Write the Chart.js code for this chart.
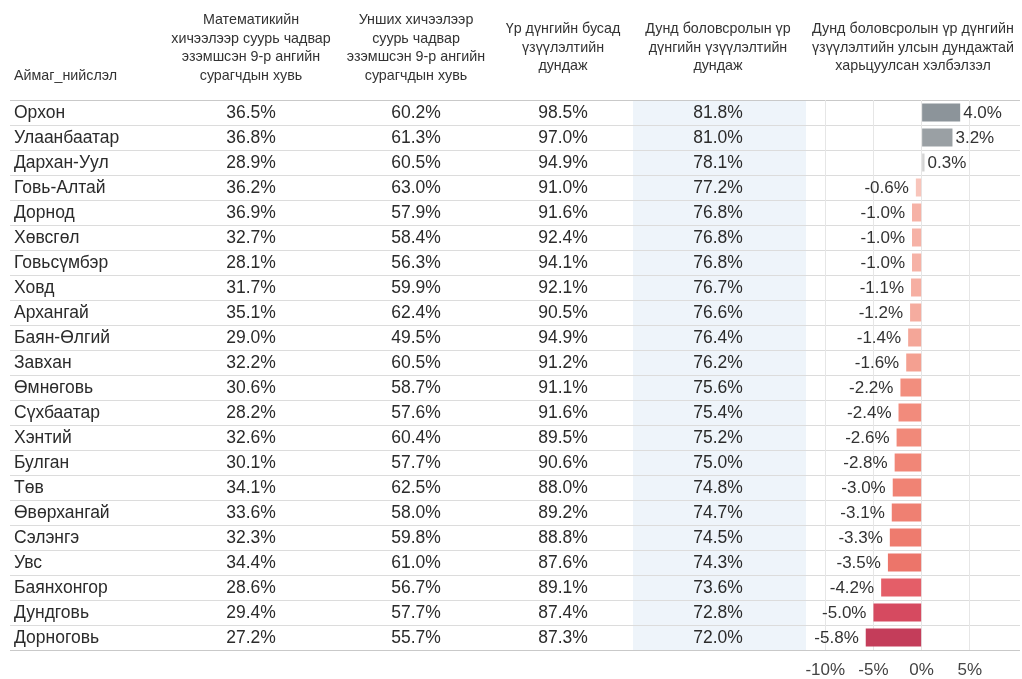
<!DOCTYPE html>
<html>
<head>
<meta charset="utf-8">
<script src="https://cdn.jsdelivr.net/npm/chart.js@4/dist/chart.umd.min.js"></script>
<style>
  body { margin: 0; background: #fff; }
  canvas { display: block; }
</style>
</head>
<body>
<canvas id="chart" width="1022" height="679"></canvas>
<script>
const regions = ['Орхон', 'Улаанбаатар', 'Дархан-Уул', 'Говь-Алтай', 'Дорнод', 'Хөвсгөл', 'Говьсүмбэр', 'Ховд',
    'Архангай', 'Баян-Өлгий', 'Завхан', 'Өмнөговь', 'Сүхбаатар', 'Хэнтий', 'Булган', 'Төв', 'Өвөрхангай',
    'Сэлэнгэ', 'Увс', 'Баянхонгор', 'Дундговь', 'Дорноговь'];
const mathShare = [36.5, 36.8, 28.9, 36.2, 36.9, 32.7, 28.1, 31.7, 35.1, 29.0, 32.2, 30.6, 28.2, 32.6, 30.1, 34.1,
    33.6, 32.3, 34.4, 28.6, 29.4, 27.2];
const readingShare = [60.2, 61.3, 60.5, 63.0, 57.9, 58.4, 56.3, 59.9, 62.4, 49.5, 60.5, 58.7, 57.6, 60.4, 57.7, 62.5,
    58.0, 59.8, 61.0, 56.7, 57.7, 55.7];
const otherAvg = [98.5, 97.0, 94.9, 91.0, 91.6, 92.4, 94.1, 92.1, 90.5, 94.9, 91.2, 91.1, 91.6, 89.5, 90.6, 88.0,
    89.2, 88.8, 87.6, 89.1, 87.4, 87.3];
const secondaryAvg = [81.8, 81.0, 78.1, 77.2, 76.8, 76.8, 76.8, 76.7, 76.6, 76.4, 76.2, 75.6, 75.4, 75.2, 75.0, 74.8,
    74.7, 74.5, 74.3, 73.6, 72.8, 72.0];
const diffFromNational = [4.0, 3.2, 0.3, -0.6, -1.0, -1.0, -1.0, -1.1, -1.2, -1.4, -1.6, -2.2, -2.4, -2.6, -2.8, -3.0,
    -3.1, -3.3, -3.5, -4.2, -5.0, -5.8];
const xTicks = [-10, -5, 0, 5];

const headers = [
    ['Аймаг_нийслэл'],
    ['Математикийн', 'хичээлээр суурь чадвар', 'эзэмшсэн 9-р ангийн', 'сурагчдын хувь'],
    ['Унших хичээлээр', 'суурь чадвар', 'эзэмшсэн 9-р ангийн', 'сурагчдын хувь'],
    ['Үр дүнгийн бусад', 'үзүүлэлтийн', 'дундаж'],
    ['Дунд боловсролын үр', 'дүнгийн үзүүлэлтийн', 'дундаж'],
    ['Дунд боловсролын үр дүнгийн', 'үзүүлэлтийн улсын дундажтай', 'харьцуулсан хэлбэлзэл']
];

const FONT = '"Liberation Sans", Arial, sans-serif';
const colX = [14, 251, 416, 563, 718, 913];
const columns = [mathShare, readingShare, otherAvg, secondaryAvg];

// diverging colours: red for below national average, grey above
const colorStops = [
    [-6, [192, 58, 88]], [-5, [214, 74, 96]], [-4.2, [228, 94, 104]], [-3.5, [236, 117, 106]],
    [-3, [240, 131, 116]], [-2.2, [242, 142, 126]], [-1.5, [244, 163, 148]], [-1, [246, 178, 166]],
    [-0.5, [248, 202, 192]], [0, [224, 224, 224]], [0.3, [212, 212, 212]], [3, [158, 163, 167]], [4, [140, 148, 154]]
];
function barColor(v) {
    for (let i = 1; i < colorStops.length; i++) {
        const [v0, c0] = colorStops[i - 1];
        const [v1, c1] = colorStops[i];
        if (v <= v1 || i === colorStops.length - 1) {
            const t = Math.max(0, Math.min(1, (v - v0) / (v1 - v0)));
            const c = c0.map((a, k) => Math.round(a + (c1[k] - a) * t));
            return `rgb(${c[0]}, ${c[1]}, ${c[2]})`;
        }
    }
}

const tablePlugin = {
    id: 'table',
    beforeDraw(chart) {
        const {ctx, chartArea, scales: {y}} = chart;
        const step = y.getPixelForValue(1) - y.getPixelForValue(0);
        const top = y.getPixelForValue(0) - step / 2;
        const bottom = y.getPixelForValue(regions.length - 1) + step / 2;
        ctx.save();
        ctx.fillStyle = '#eef4fa';
        ctx.fillRect(633, top, chartArea.left - 633, bottom - top);
        for (let i = 0; i <= regions.length; i++) {
            const yy = Math.round(top + i * step) + 0.5;
            ctx.strokeStyle = (i === 0 || i === regions.length) ? '#c9c9c9' : '#dcdcdc';
            ctx.lineWidth = 1;
            ctx.beginPath();
            ctx.moveTo(10, yy);
            ctx.lineTo(1020, yy);
            ctx.stroke();
        }
        ctx.restore();
    },
    afterDraw(chart) {
        const {ctx, scales: {y}} = chart;
        ctx.save();
        // header
        ctx.fillStyle = '#333';
        ctx.font = '14.3px ' + FONT;
        ctx.textBaseline = 'middle';
        headers.forEach((lines, c) => {
            ctx.textAlign = c === 0 ? 'left' : 'center';
            const lh = 18.5;
            const y0 = c === 0 ? 76 : 48 - (lines.length - 1) * lh / 2;
            lines.forEach((t, k) => ctx.fillText(t, colX[c], y0 + k * lh));
        });
        // cells
        ctx.font = '17.5px ' + FONT;
        ctx.fillStyle = '#2b2b2b';
        regions.forEach((r, i) => {
            const yy = y.getPixelForValue(i) + 1;
            ctx.textAlign = 'left';
            ctx.fillText(r, colX[0], yy);
            ctx.textAlign = 'center';
            columns.forEach((arr, c) => ctx.fillText(arr[i].toFixed(1) + '%', colX[c + 1], yy));
        });
        ctx.restore();
    },
    afterDatasetsDraw(chart) {
        const {ctx} = chart;
        const meta = chart.getDatasetMeta(0);
        ctx.save();
        ctx.font = '17px ' + FONT;
        ctx.fillStyle = '#333';
        ctx.textBaseline = 'middle';
        meta.data.forEach((bar, i) => {
            const v = diffFromNational[i];
            const label = v.toFixed(1) + '%';
            if (v >= 0) {
                ctx.textAlign = 'left';
                ctx.fillText(label, bar.x + 3, bar.y + 1);
            } else {
                ctx.textAlign = 'right';
                ctx.fillText(label, bar.x - 7, bar.y + 1);
            }
        });
        ctx.restore();
    }
};

new Chart(document.getElementById('chart'), {
    type: 'bar',
    data: {
        labels: regions,
        datasets: [{
            data: diffFromNational,
            backgroundColor: diffFromNational.map(barColor),
            barPercentage: 0.72,
            categoryPercentage: 1
        }]
    },
    options: {
        indexAxis: 'y',
        responsive: false,
        animation: false,
        layout: {padding: {left: 806, top: 100, right: 4, bottom: 0}},
        plugins: {legend: {display: false}, tooltip: {enabled: false}},
        scales: {
            x: {
                min: -12,
                max: 10,
                afterBuildTicks: s => { s.ticks = xTicks.map(v => ({value: v})); },
                afterFit: s => { s.height = 29; },
                grid: {color: '#e6e6e6', drawTicks: false},
                border: {display: false},
                ticks: {
                    callback: v => v + '%',
                    font: {family: FONT, size: 17},
                    color: '#444',
                    padding: 10,
                    maxRotation: 0
                }
            },
            y: {display: false}
        }
    },
    plugins: [tablePlugin]
});
</script>
</body>
</html>
